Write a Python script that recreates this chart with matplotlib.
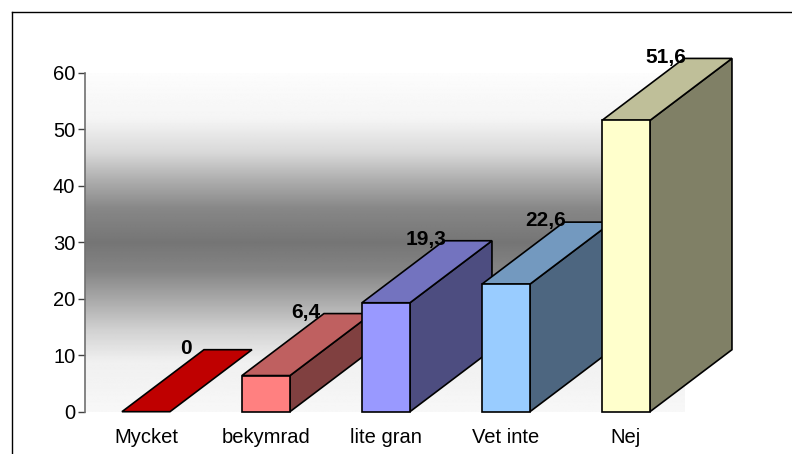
import numpy as np
import matplotlib.pyplot as plt
from matplotlib.patches import Polygon
from matplotlib.colors import to_rgb
from matplotlib.lines import Line2D

plt.rcParams['font.family'] = ['Liberation Sans', 'DejaVu Sans']

categories = ['Mycket', 'bekymrad', 'lite gran', 'Vet inte', 'Nej']
values = [0, 6.4, 19.3, 22.6, 51.6]
labels = ['0', '6,4', '19,3', '22,6', '51,6']
front_colors = ['#FF0000', '#FF8080', '#9999FF', '#99CCFF', '#FFFFCC']
yticks = [0, 10, 20, 30, 40, 50, 60]

W, H = 792, 454
fig = plt.figure(figsize=(W / 100, H / 100), dpi=100)

# axes box in pixels (y measured from top of the image)
left_px, right_px = 85, 685
top_px, bottom_px = 73, 411.7
ax = fig.add_axes([left_px / W, (H - bottom_px) / H,
                   (right_px - left_px) / W, (bottom_px - top_px) / H])

xmin, xmax = -0.508, 4.492
ax.set_xlim(xmin, xmax)
ax.set_ylim(0, 60)

# 3d offset of the bar backs, in data units
bar_w = 0.4
dx = 82 / 120
dy = 62 / ((bottom_px - top_px) / 60)

# grey wall, dark band around 30
stops_v = [0, 9, 14.5, 20, 25, 30, 36, 41, 46, 52, 60]
stops_g = [0.97, 0.94, 0.82, 0.66, 0.52, 0.46, 0.53, 0.68, 0.85, 0.96, 0.99]
yy = np.linspace(0, 60, 400)
gg = np.interp(yy, stops_v, stops_g)
img = np.repeat(gg[:, None], 2, axis=1)
ax.imshow(img, cmap='gray', vmin=0, vmax=1, origin='lower',
          extent=[xmin, xmax, 0, 60], aspect='auto', zorder=0,
          interpolation='bilinear')


def shade(c, f):
    r, g, b = to_rgb(c)
    return (r * f, g * f, b * f)


for i, (v, c) in enumerate(zip(values, front_colors)):
    x0, x1 = i - bar_w / 2, i + bar_w / 2
    side = [(x1, 0), (x1 + dx, dy), (x1 + dx, v + dy), (x1, v)]
    top = [(x0, v), (x1, v), (x1 + dx, v + dy), (x0 + dx, v + dy)]
    front = [(x0, 0), (x1, 0), (x1, v), (x0, v)]
    kw = dict(edgecolor='black', linewidth=1.2, clip_on=False, zorder=3 + i)
    if v > 0:
        ax.add_patch(Polygon(side, closed=True, facecolor=shade(c, 0.5), **kw))
    ax.add_patch(Polygon(top, closed=True, facecolor=shade(c, 0.75), **kw))
    if v > 0:
        ax.add_patch(Polygon(front, closed=True, facecolor=c, **kw))

# value labels near the back left corner of each top
for i, (v, t) in enumerate(zip(values, labels)):
    ax.text(i - bar_w / 2 + dx - 0.15, v + dy + 0.2, t, ha='center', va='center',
            fontsize=15, fontweight='bold', color='black', zorder=20, clip_on=False)

ax.set_xticks(range(len(categories)))
ax.set_xticklabels(categories, fontsize=14.5)
ax.tick_params(axis='x', length=0, pad=12)
ax.set_yticks(yticks)
ax.set_yticklabels([str(t) for t in yticks], fontsize=14.5)
ax.tick_params(axis='y', length=5, width=1, color='#404040', pad=2)

for s in ['top', 'right', 'bottom']:
    ax.spines[s].set_visible(False)
ax.spines['left'].set_color('#707070')
ax.spines['left'].set_linewidth(1.2)

# outer chart border, running off the right and bottom edges
fig.add_artist(Line2D([11.5 / W, 11.5 / W], [0, (H - 11.5) / H], color='black', lw=1))
fig.add_artist(Line2D([11.5 / W, 1], [(H - 11.5) / H, (H - 11.5) / H], color='black', lw=1))

fig.savefig('out.png', dpi=100)
